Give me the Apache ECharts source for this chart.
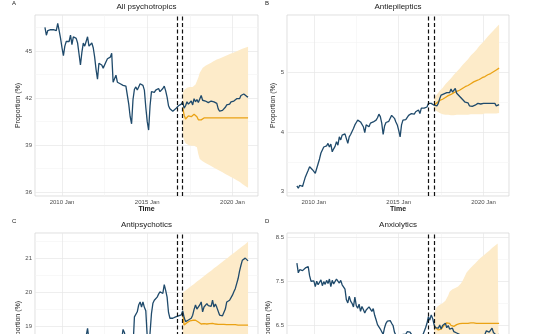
<!DOCTYPE html>
<html>
<head>
<meta charset="utf-8">
<script src="https://cdn.jsdelivr.net/npm/echarts@6/dist/echarts.min.js"></script>
<style>
html,body{margin:0;padding:0;background:#fff;overflow:hidden}
#c{width:536px;height:432px}
</style>
</head>
<body>
<div id="c"></div>
<script>
// ---------------- data ----------------
const MONTHS = ['Jan','Feb','Mar','Apr','May','Jun','Jul','Aug','Sep','Oct','Nov','Dec'];
const axisFirstMonth = [2008, 5];     // 2008 Jun (padded date range)
const axisMonthCount = 158;           // through 2021 Jul
const observedStart = '2009 Jan';
const forecastStart = '2017 Feb';
const xTickLabels = ['2010 Jan', '2015 Jan', '2020 Jan'];
const xMinorBreaks = ['2012 Jul', '2017 Jul'];
const interventionMarks = ['2016 Oct', '2017 Feb'];

const panelTitles = ['All psychotropics', 'Antiepileptics', 'Antipsychotics', 'Anxiolytics'];
const panelLetters = ['A', 'B', 'C', 'D'];
const yAxisTitle = 'Proportion (%)';
const xAxisTitle = 'Time';

// A: All psychotropics
const psychoObserved = [
 46.5, 46.0, 46.3, 46.3, 46.35, 46.3, 46.35, 46.25, 46.3, 46.75, 46.3, 45.8,
 45.2, 44.7, 45.3, 45.6, 45.65, 45.6, 46.0, 45.4, 45.9, 45.85, 45.8, 45.5,
 44.8, 44.1, 44.9, 45.5, 45.3, 45.6, 45.9, 45.3, 45.4, 45.5, 45.2, 44.6,
 43.8, 43.2, 44.2, 44.1, 44.1, 43.9, 44.0, 44.3, 44.5, 44.6, 44.6, 44.85,
 43.0, 43.1, 43.45, 43.0, 43.0, 42.9, 42.85, 42.8, 42.9, 42.75, 42.7, 41.6,
 40.8, 40.35, 41.9, 42.55, 42.7, 42.5, 42.7, 42.9, 42.85, 42.8, 42.5, 41.4,
 40.5, 39.95, 41.5, 42.4, 42.45, 42.35, 42.5, 42.4, 42.6, 42.4, 42.4, 42.6,
 42.75, 42.45, 42.05, 41.5, 41.3, 41.2, 41.15, 41.2, 41.3, 41.4, 41.5, 41.45,
 41.6, 41.75, 41.35, 41.5, 41.75, 41.6, 41.7, 41.8, 41.55, 41.95, 41.75, 41.9,
 41.7, 41.75, 42.15, 41.85, 41.95, 41.8, 41.85, 41.7, 41.7, 41.8, 41.7, 41.75,
 41.7, 41.65, 41.3, 41.15, 41.1, 41.2, 41.1, 41.4, 41.55, 41.5, 41.6, 41.75,
 41.65, 41.8, 41.75, 41.95, 42.0, 41.95, 42.15, 42.2, 42.25, 42.15, 42.1, 42.05
];
const psychoForecast = [
 41.4, 40.9, 40.65, 40.75, 40.85, 40.85, 40.8, 40.9, 40.95, 41.0, 40.8, 40.6, 40.55, 40.6, 40.7, 40.72,
 40.72, 40.72, 40.72, 40.72, 40.72, 40.72, 40.72, 40.72, 40.72, 40.72, 40.72, 40.72, 40.72, 40.72, 40.72, 40.72,
 40.72, 40.72, 40.72, 40.72, 40.72, 40.72, 40.72, 40.72, 40.72, 40.72, 40.72, 40.72, 40.72, 40.72, 40.72
];
const psychoLower = [
 39.6, 39.3, 39.1, 39.05, 39.0, 39.0, 38.95, 39.0, 38.95, 38.9,
 38.85, 38.4, 38.1, 38.0, 37.95, 37.9, 37.85, 37.8, 37.75, 37.7,
 37.65, 37.6, 37.55, 37.5, 37.45, 37.4, 37.35, 37.3, 37.25, 37.2,
 37.15, 37.1, 37.05, 37.0, 36.95, 36.9, 36.85, 36.8, 36.75, 36.7,
 36.65, 36.58, 36.5, 36.45, 36.38, 36.32, 36.26
];
const psychoUpper = [
 42.3, 42.5, 42.6, 42.65, 42.6, 42.7, 42.75, 42.7, 42.8, 42.85,
 42.9, 43.3, 43.6, 43.75, 43.9, 44.0, 44.05, 44.1, 44.15, 44.2,
 44.25, 44.3, 44.35, 44.4, 44.45, 44.48, 44.52, 44.56, 44.6, 44.64,
 44.68, 44.72, 44.76, 44.8, 44.84, 44.87, 44.9, 44.94, 44.98, 45.02,
 45.06, 45.1, 45.13, 45.17, 45.2, 45.23, 45.26
];
const psychoRange = [35.74, 47.29];
const psychoTicks = [36, 39, 42, 45];
const psychoMinor = [37.5, 40.5, 43.5, 46.5];

// B: Antiepileptics
const epiObserved = [
 3.10, 3.06, 3.11, 3.10, 3.09, 3.17, 3.25, 3.28, 3.36, 3.42, 3.40, 3.37,
 3.35, 3.31, 3.39, 3.47, 3.55, 3.65, 3.67, 3.75, 3.74, 3.77, 3.81, 3.75,
 3.80, 3.67, 3.72, 3.76, 3.84, 3.78, 3.92, 3.87, 3.95, 3.93, 3.97, 3.98,
 3.81, 3.92, 3.96, 3.99, 4.06, 4.12, 4.16, 4.20, 4.18, 4.17, 4.16, 4.09,
 3.99, 4.12, 4.10, 4.09, 4.15, 4.14, 4.17, 4.18, 4.20, 4.24, 4.30, 4.26,
 4.15, 3.96, 4.10, 4.16, 4.15, 4.18, 4.23, 4.28, 4.25, 4.23, 4.17, 4.12,
 4.03, 3.92, 4.12, 4.20, 4.18, 4.21, 4.24, 4.28, 4.26, 4.31, 4.29, 4.30,
 4.34, 4.31, 4.37, 4.31, 4.40, 4.37, 4.40, 4.38, 4.42, 4.48, 4.45, 4.48,
 4.49, 4.45, 4.46, 4.44, 4.48, 4.56, 4.62, 4.63, 4.64, 4.65, 4.66, 4.64,
 4.66, 4.72, 4.67, 4.70, 4.73, 4.65, 4.68, 4.60, 4.58, 4.55, 4.52, 4.50,
 4.48, 4.49, 4.44, 4.42, 4.43, 4.44, 4.45, 4.44, 4.48, 4.46, 4.47, 4.48,
 4.48, 4.50, 4.48, 4.47, 4.48, 4.47, 4.48, 4.47, 4.48, 4.44, 4.42, 4.46
];
const epiForecast = [
 4.45, 4.47, 4.49, 4.51, 4.53, 4.54, 4.55, 4.57, 4.58, 4.60,
 4.61, 4.62, 4.63, 4.64, 4.66, 4.67, 4.68, 4.69, 4.70, 4.72,
 4.73, 4.74, 4.76, 4.77, 4.78, 4.80, 4.81, 4.82, 4.84, 4.85,
 4.86, 4.87, 4.88, 4.90, 4.91, 4.92, 4.93, 4.95, 4.96, 4.97,
 4.98, 5.00, 5.01, 5.03, 5.04, 5.06, 5.07
];
const epiLower = [
 4.38, 4.36, 4.35, 4.33, 4.32, 4.31, 4.30, 4.30, 4.29, 4.29,
 4.29, 4.28, 4.28, 4.28, 4.28, 4.29, 4.29, 4.29, 4.29, 4.29,
 4.29, 4.29, 4.29, 4.29, 4.29, 4.30, 4.30, 4.30, 4.30, 4.30,
 4.30, 4.30, 4.30, 4.30, 4.30, 4.30, 4.31, 4.31, 4.31, 4.31,
 4.31, 4.31, 4.31, 4.31, 4.31, 4.31, 4.32
];
const epiUpper = [
 4.58, 4.61, 4.63, 4.66, 4.69, 4.71, 4.74, 4.77, 4.80, 4.82,
 4.85, 4.88, 4.90, 4.93, 4.96, 4.98, 5.01, 5.04, 5.06, 5.09,
 5.12, 5.14, 5.17, 5.20, 5.22, 5.25, 5.28, 5.30, 5.33, 5.36,
 5.38, 5.41, 5.44, 5.46, 5.49, 5.52, 5.54, 5.57, 5.60, 5.62,
 5.65, 5.68, 5.70, 5.73, 5.75, 5.78, 5.80
];
const epiRange = [2.93, 5.96];
const epiTicks = [3, 4, 5];
const epiMinor = [3.5, 4.5, 5.5];

// C: Antipsychotics
const apsyObserved = [
 17.9, 17.8, 18.0, 17.9, 18.1, 18.0, 18.2, 18.1, 18.0, 18.3, 18.2, 18.1,
 18.0, 17.9, 18.2, 18.3, 18.2, 18.4, 18.3, 18.5, 18.4, 18.3, 18.5, 18.4,
 18.2, 18.0, 18.4, 18.5, 18.6, 18.7, 18.93, 18.6, 18.5, 18.6, 18.5, 18.3,
 18.1, 18.0, 18.3, 18.4, 18.3, 18.5, 18.4, 18.6, 18.5, 18.6, 18.7, 18.6,
 18.2, 18.3, 18.5, 18.4, 18.6, 18.7, 18.6, 18.9, 18.8, 18.6, 18.5, 18.3,
 17.9, 17.6, 18.4, 19.27, 19.27, 19.42, 19.62, 19.71, 19.56, 19.71, 19.55, 19.45,
 18.7, 18.2, 18.8, 19.37, 19.67, 19.76, 19.79, 19.85, 19.94, 20.01, 20.06, 19.96,
 20.22, 20.05, 19.85, 19.4, 19.23, 19.2, 19.23, 19.25, 19.27, 19.32, 19.3, 19.27,
 19.33, 19.45, 19.25, 19.13, 19.15, 19.18, 19.2, 19.23, 19.32, 19.49, 19.62, 19.5,
 19.45, 19.62, 19.71, 19.42, 19.56, 19.52, 19.66, 19.6, 19.62, 19.58, 19.76, 19.56,
 19.65, 19.55, 19.5, 19.32, 19.27, 19.3, 19.27, 19.5, 19.71, 19.72, 19.76, 19.72,
 19.91, 20.01, 20.1, 20.25, 20.4, 20.62, 20.79, 20.94, 20.99, 21.0, 20.95, 20.92
];
const apsyForecast = [
 19.35, 19.03, 19.06, 19.1, 19.12, 19.15, 19.16, 19.17, 19.18, 19.17,
 19.15, 19.12, 19.08, 19.06, 19.06, 19.07, 19.07, 19.06, 19.06, 19.07,
 19.08, 19.08, 19.07, 19.06, 19.06, 19.05, 19.05, 19.05, 19.05, 19.05,
 19.05, 19.04, 19.04, 19.04, 19.04, 19.04, 19.04, 19.04, 19.04, 19.03,
 19.03, 19.03, 19.03, 19.03, 19.03, 19.03, 19.03
];
const apsyLower = [
 18.72, 18.05, 18.07, 18.12, 18.13, 18.16, 18.14, 18.13, 18.12, 18.07,
 17.99, 17.90, 17.79, 17.72, 17.68, 17.67, 17.64, 17.59, 17.55, 17.54,
 17.53, 17.50, 17.44, 17.39, 17.36, 17.31, 17.27, 17.24, 17.21, 17.18,
 17.14, 17.09, 17.06, 17.03, 16.99, 16.96, 16.93, 16.90, 16.86, 16.81,
 16.78, 16.75, 16.71, 16.68, 16.65, 16.62, 16.58
];
const apsyUpper = [
 19.98, 20.01, 20.05, 20.08, 20.11, 20.14, 20.18, 20.21, 20.24, 20.27,
 20.31, 20.34, 20.37, 20.40, 20.44, 20.47, 20.50, 20.53, 20.57, 20.60,
 20.63, 20.66, 20.70, 20.73, 20.76, 20.79, 20.83, 20.86, 20.89, 20.92,
 20.96, 20.99, 21.02, 21.05, 21.09, 21.12, 21.15, 21.18, 21.22, 21.25,
 21.28, 21.31, 21.35, 21.38, 21.41, 21.44, 21.48
];
const apsyRange = [16.41, 21.74];
const apsyTicks = [17, 18, 19, 20, 21];
const apsyMinor = [16.5, 17.5, 18.5, 19.5, 20.5, 21.5];

// D: Anxiolytics
const anxObserved = [
 7.91, 7.69, 7.76, 7.75, 7.74, 7.78, 7.80, 7.76, 7.83, 7.62, 7.50, 7.46,
 7.51, 7.38, 7.50, 7.42, 7.46, 7.53, 7.40, 7.49, 7.43, 7.52, 7.45, 7.55,
 7.38, 7.52, 7.44, 7.48, 7.55, 7.57, 7.46, 7.52, 7.42, 7.45, 7.32, 7.08,
 7.01, 7.16, 7.05, 7.00, 6.92, 7.14, 6.95, 6.89, 6.98, 6.82, 6.93, 6.86,
 6.78, 6.85, 6.82, 6.92, 6.90, 6.82, 6.88, 6.73, 6.63, 6.52, 6.48, 6.42,
 6.36, 6.30, 6.45, 6.55, 6.60, 6.57, 6.61, 6.55, 6.50, 6.35, 6.28, 6.22,
 6.15, 6.10, 6.25, 6.30, 6.34, 6.30, 6.36, 6.33, 6.35, 6.30, 6.28, 6.25,
 6.27, 6.22, 6.20, 6.25, 6.22, 6.28, 6.30, 6.45, 6.55, 6.70, 6.62, 6.74,
 6.66, 6.52, 6.45, 6.48, 6.44, 6.51, 6.42, 6.50, 6.47, 6.55, 6.45, 6.50,
 6.42, 6.38, 6.44, 6.36, 6.40, 6.33, 6.35, 6.30, 6.34, 6.28, 6.30, 6.25,
 6.28, 6.22, 6.25, 6.20, 6.24, 6.20, 6.22, 6.25, 6.20, 6.26, 6.30, 6.28,
 6.32, 6.30, 6.38, 6.35, 6.35, 6.32, 6.44, 6.34, 6.30, 6.28, 6.32, 6.30
];
const anxForecast = [
 6.50, 6.45, 6.42, 6.40, 6.40, 6.42, 6.45, 6.50, 6.54, 6.56,
 6.57, 6.55, 6.50, 6.47, 6.48, 6.50, 6.52, 6.53, 6.54, 6.55,
 6.55, 6.55, 6.55, 6.55, 6.55, 6.56, 6.56, 6.56, 6.56, 6.55,
 6.55, 6.55, 6.55, 6.55, 6.55, 6.55, 6.55, 6.55, 6.55, 6.55,
 6.55, 6.55, 6.55, 6.55, 6.55, 6.55, 6.55
];
const anxLower = [
 6.25, 6.05, 5.92, 5.85, 5.83, 5.85, 5.90, 5.97, 6.02, 6.02,
 5.96, 5.84, 5.70, 5.62, 5.62, 5.65, 5.67, 5.68, 5.68, 5.65,
 5.60, 5.54, 5.47, 5.40, 5.36, 5.33, 5.30, 5.26, 5.23, 5.20,
 5.16, 5.13, 5.10, 5.07, 5.04, 5.02, 4.99, 4.96, 4.93, 4.91,
 4.88, 4.85, 4.83, 4.80, 4.77, 4.75, 4.72
];
const anxUpper = [
 6.75, 6.85, 6.92, 6.95, 6.97, 6.99, 7.00, 7.03, 7.06, 7.10,
 7.18, 7.26, 7.30, 7.32, 7.34, 7.35, 7.37, 7.38, 7.40, 7.45,
 7.50, 7.56, 7.63, 7.70, 7.74, 7.77, 7.80, 7.84, 7.87, 7.90,
 7.94, 7.97, 8.00, 8.03, 8.06, 8.08, 8.11, 8.14, 8.17, 8.19,
 8.22, 8.25, 8.27, 8.30, 8.33, 8.35, 8.38
];
const anxRange = [4.5, 8.59];
const anxTicks = [5.5, 6.5, 7.5, 8.5];
const anxMinor = [5, 6, 7, 8];

// ---------------- layout & style ----------------
const layout = [
  {left: 35,  top: 15,  width: 223, height: 181, letterX: 12},
  {left: 287, top: 15,  width: 222, height: 181, letterX: 265},
  {left: 35,  top: 233, width: 223, height: 181, letterX: 12},
  {left: 287, top: 233, width: 222, height: 181, letterX: 265}
];
const COL_OBS = '#1f4a6b';
const COL_FC = '#eaa214';
const COL_BAND = '#fdebc9';
const FONT = '"Liberation Sans", Arial, Helvetica, sans-serif';
const majorLine = {color: '#e6e6e6', width: 0.7, type: 'solid'};
const minorLine = {color: '#f3f3f3', width: 0.6, type: 'solid'};

// ---------------- build ----------------
const categories = [];
for (let k = 0; k < axisMonthCount; k++) {
  const t = axisFirstMonth[0] * 12 + axisFirstMonth[1] + k;
  categories.push(Math.floor(t / 12) + ' ' + MONTHS[t % 12]);
}
function placeOnAxis(values, startLabel) {
  const s = categories.indexOf(startLabel);
  return categories.map((c, i) => {
    const j = i - s;
    return (j >= 0 && j < values.length) ? values[j] : null;
  });
}

const panels = [
  {obs: psychoObserved, fc: psychoForecast, lo: psychoLower, hi: psychoUpper, range: psychoRange, ticks: psychoTicks, minor: psychoMinor},
  {obs: epiObserved, fc: epiForecast, lo: epiLower, hi: epiUpper, range: epiRange, ticks: epiTicks, minor: epiMinor},
  {obs: apsyObserved, fc: apsyForecast, lo: apsyLower, hi: apsyUpper, range: apsyRange, ticks: apsyTicks, minor: apsyMinor},
  {obs: anxObserved, fc: anxForecast, lo: anxLower, hi: anxUpper, range: anxRange, ticks: anxTicks, minor: anxMinor}
];

const option = {
  animation: false,
  backgroundColor: '#ffffff',
  textStyle: {fontFamily: FONT},
  title: [], grid: [], xAxis: [], yAxis: [], series: []
};

panels.forEach((p, i) => {
  const L = layout[i];
  option.title.push({
    text: panelTitles[i], left: L.left + L.width / 2, top: L.top - 12, textAlign: 'center', padding: 0,
    textStyle: {fontSize: 8, fontWeight: 'normal', color: '#1a1a1a', fontFamily: FONT}
  });
  option.title.push({
    text: panelLetters[i], left: L.letterX, top: L.top - 15, padding: 0,
    textStyle: {fontSize: 6, fontWeight: 'normal', color: '#1a1a1a', fontFamily: FONT}
  });
  option.grid.push({
    left: L.left, top: L.top, width: L.width, height: L.height,
    show: true, borderColor: '#d3d3d3', borderWidth: 0.7, backgroundColor: 'transparent'
  });
  option.xAxis.push({
    type: 'category', gridIndex: i, data: categories, boundaryGap: false,
    axisLine: {show: false}, axisTick: {show: false}, splitLine: {show: false},
    axisLabel: {
      interval: (idx, val) => xTickLabels.indexOf(val) >= 0,
      fontSize: 6, color: '#4d4d4d', margin: 3, fontFamily: FONT
    },
    name: xAxisTitle, nameLocation: 'middle', nameGap: 8,
    nameTextStyle: {fontSize: 7, fontWeight: 'bold', color: '#1a1a1a', fontFamily: FONT}
  });
  option.yAxis.push({
    type: 'value', gridIndex: i, min: p.range[0], max: p.range[1], scale: true,
    axisLine: {show: false}, axisTick: {show: false, customValues: p.ticks}, splitLine: {show: false},
    axisLabel: {customValues: p.ticks, fontSize: 6, color: '#4d4d4d', margin: 3, fontFamily: FONT},
    name: yAxisTitle, nameLocation: 'middle', nameGap: 10,
    nameTextStyle: {fontSize: 7, color: '#1a1a1a', fontFamily: FONT}
  });

  // grid lines (major + minor), drawn through the axes' scales
  option.series.push({
    type: 'line', xAxisIndex: i, yAxisIndex: i, data: [], silent: true,
    markLine: {
      z: 1, silent: true, symbol: 'none', label: {show: false}, emphasis: {disabled: true},
      data: [].concat(
        p.minor.map(v => ({yAxis: v, lineStyle: minorLine})),
        xMinorBreaks.map(c => ({xAxis: c, lineStyle: minorLine})),
        p.ticks.map(v => ({yAxis: v, lineStyle: majorLine})),
        xTickLabels.map(c => ({xAxis: c, lineStyle: majorLine}))
      )
    }
  });

  // prediction interval band (stacked lower + width)
  const width = p.hi.map((h, k) => +(h - p.lo[k]).toFixed(4));
  option.series.push({
    type: 'line', xAxisIndex: i, yAxisIndex: i, stack: 'band' + i, silent: true,
    data: placeOnAxis(p.lo, forecastStart), symbol: 'none',
    lineStyle: {width: 0, opacity: 0}, z: 2
  });
  option.series.push({
    type: 'line', xAxisIndex: i, yAxisIndex: i, stack: 'band' + i, silent: true,
    data: placeOnAxis(width, forecastStart), symbol: 'none',
    lineStyle: {width: 0, opacity: 0}, areaStyle: {color: COL_BAND, opacity: 1}, z: 2
  });
  // counterfactual forecast
  option.series.push({
    type: 'line', xAxisIndex: i, yAxisIndex: i, silent: true,
    data: placeOnAxis(p.fc, forecastStart), symbol: 'none',
    lineStyle: {color: COL_FC, width: 1.3}, z: 3
  });
  // observed
  option.series.push({
    type: 'line', xAxisIndex: i, yAxisIndex: i, silent: true,
    data: placeOnAxis(p.obs, observedStart), symbol: 'none',
    lineStyle: {color: COL_OBS, width: 1.3}, z: 4,
    markLine: {
      z: 6, silent: true, symbol: 'none', label: {show: false}, emphasis: {disabled: true},
      lineStyle: {color: '#111', width: 1.2, type: [4, 2.5]},
      data: interventionMarks.map(c => ({xAxis: c}))
    }
  });
});

const chart = echarts.init(document.getElementById('c'), null, {renderer: 'canvas'});
chart.setOption(option);
</script>
</body>
</html>
